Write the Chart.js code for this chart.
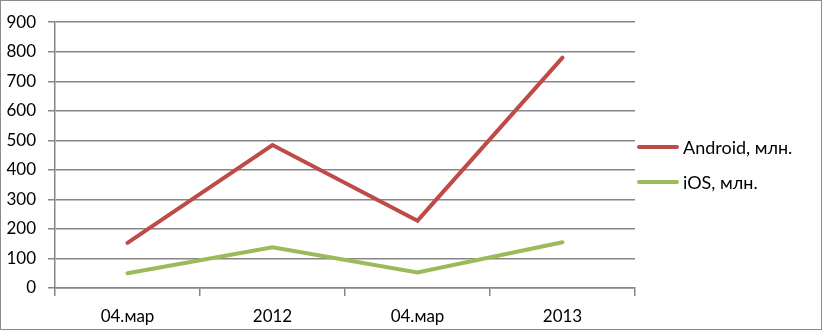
<!DOCTYPE html>
<html>
<head>
<meta charset="utf-8">
<script src="https://cdn.jsdelivr.net/npm/chart.js@4"></script>
<style>
  html, body { margin: 0; padding: 0; background: #fff; }
  #wrap { position: relative; width: 822px; height: 330px; box-sizing: border-box; border: 1px solid #8c8c8c; }
  canvas { position: absolute; left: -1px; top: -1px; }
  .legend { position: absolute; left: 636px; font-family: Lato, 'Open Sans', sans-serif; font-size: 18px; color: #000; display: flex; align-items: center; }
  .legend span.sw { display: inline-block; width: 42px; height: 4px; margin-right: 4px; border-radius: 2px; }
</style>
</head>
<body>
<div id="wrap">
  <canvas id="chart" width="822" height="330"></canvas>
  <div id="legend"></div>
</div>
<script>
const categories = ['04.мар', '2012', '04.мар', '2013'];
const android = [153, 484, 228, 780];
const ios = [50, 138, 53, 155];
const seriesNames = ['Android, млн.', 'iOS, млн.'];
const seriesColors = ['#BE4B48', '#9BBB59'];
const yTicks = [0, 100, 200, 300, 400, 500, 600, 700, 800, 900];

const font = { family: 'Lato, "Open Sans", sans-serif', size: 17 };
const gridColor = '#868686';

const ctx = document.getElementById('chart').getContext('2d');
const chart = new Chart(ctx, {
  type: 'line',
  data: {
    labels: categories,
    datasets: [
      {
        label: seriesNames[0],
        data: android,
        borderColor: seriesColors[0],
        borderWidth: 4,
        pointRadius: 0,
        tension: 0,
        borderCapStyle: 'round'
      },
      {
        label: seriesNames[1],
        data: ios,
        borderColor: seriesColors[1],
        borderWidth: 4,
        pointRadius: 0,
        tension: 0,
        borderCapStyle: 'round'
      }
    ]
  },
  options: {
    responsive: false,
    animation: false,
    layout: { padding: { top: 22, right: 187, left: 0, bottom: 0 } },
    plugins: {
      legend: { display: false },
      tooltip: { enabled: false }
    },
    scales: {
      x: {
        offset: true,
        grid: {
          offset: true,
          drawOnChartArea: false,
          color: gridColor,
          lineWidth: 1.5,
          tickLength: 8
        },
        border: { color: gridColor, width: 1.5 },
        ticks: { color: '#000', font, padding: 10, maxRotation: 0 },
        afterFit: (s) => { s.height = 42; }
      },
      y: {
        min: 0,
        max: 900,
        afterBuildTicks: (s) => { s.ticks = yTicks.map(v => ({ value: v })); },
        grid: { color: gridColor, lineWidth: 1.5, tickLength: 7 },
        border: { color: gridColor, width: 1.5 },
        ticks: { color: '#000', font, padding: 12 },
        afterFit: (s) => { s.width = 55; }
      }
    }
  }
});

// legend
const legend = document.getElementById('legend');
const legendY = [147, 182];
seriesNames.forEach((name, i) => {
  const row = document.createElement('div');
  row.className = 'legend';
  row.style.top = (legendY[i] - 12) + 'px';
  row.innerHTML = '<span class="sw" style="background:' + seriesColors[i] + '"></span>' + name;
  legend.appendChild(row);
});
</script>
</body>
</html>
